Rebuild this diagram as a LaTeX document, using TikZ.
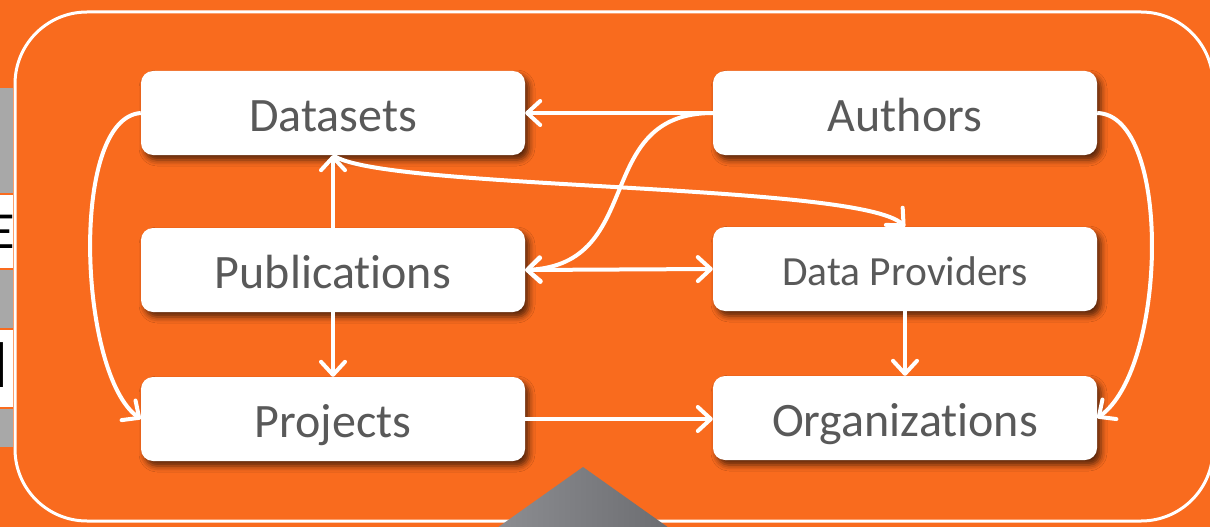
\documentclass[tikz,border=0pt]{standalone}
\usepackage{fontspec}
\setmainfont{Carlito}
\newfontfamily\boxfont[Ligatures=NoCommon]{Carlito}
\usetikzlibrary{arrows.meta,shadows.blur}
\definecolor{bgorange}{HTML}{F96B1E}
\definecolor{txtgray}{HTML}{595959}
\definecolor{stripgray}{HTML}{A8A8A8}
\definecolor{triL}{HTML}{8C8D91}
\definecolor{triR}{HTML}{6C6D71}
\tikzset{
  entity/.style={fill=white, rounded corners=12pt, minimum width=384pt, minimum height=84pt,
    inner sep=0pt, text=txtgray, text height=37pt, text depth=0pt,
    font=\boxfont\fontsize{48}{52}\selectfont,
    blur shadow={shadow xshift=4pt, shadow yshift=-5pt, shadow blur radius=6pt, shadow opacity=65}},
  smallentity/.style={entity, text height=32pt, font=\boxfont\fontsize{41.5}{45}\selectfont},
  conn/.style={draw=white, line width=4pt,
    -{Straight Barb[length=13pt,width=24pt,line cap=round,line join=round]}},
  dconn/.style={conn, {Straight Barb[length=13pt,width=24pt,line cap=round,line join=round]}-{Straight Barb[length=13pt,width=24pt,line cap=round,line join=round]}}
}
\begin{document}
\begin{tikzpicture}[x=1pt,y=-1pt]
\useasboundingbox (0,0) rectangle (1210,527);
\fill[bgorange] (0,0) rectangle (1210,527);
% left strips of the neighbouring slide
\fill[stripgray] (0,88) rectangle (13,193);
\fill[white] (0,195) rectangle (13,268);
\fill[stripgray] (0,270) rectangle (13,328);
\fill[white] (0,330) rectangle (13,407);
\fill[stripgray] (0,409) rectangle (13,447);
\begin{scope}
  \clip (0,195) rectangle (13,268);
  \node[anchor=base east, inner sep=0pt, text=black, font=\fontsize{52}{56}\selectfont] (eltr) at (15,248) {E};
\end{scope}
\begin{scope}
  \clip (0,330) rectangle (13,407);
  \node[anchor=base east, inner sep=0pt, text=black, font=\fontsize{70}{74}\selectfont] (iltr) at (9.5,387) {I};
\end{scope}
% frame
\draw[white, line width=3pt, rounded corners=72pt] (15,12) rectangle (1213,521);
% entities
\node[entity] (ds) at (333,113) {Datasets};
\node[entity] (pub) at (333,270) {Publications};
\node[entity] (prj) at (333,419) {Projects};
\node[entity] (auth) at (905,113) {Authors};
\node[smallentity] (dp) at (905,269) {Data Providers};
\node[entity] (org) at (905,418) {Organizations};
% connectors
\draw[conn] (auth.west) -- (ds.east);
\draw[conn] (auth.west) .. controls +(-122,0) and +(122,-6) .. (pub.east);
\draw[dconn] (pub.east) -- (dp.west);
\draw[conn] (ds.south) .. controls +(47,35) and +(-45,-44) .. (dp.north);
\draw[conn] (pub.north) -- (ds.south);
\draw[conn] (pub.south) -- (prj.north);
\draw[conn] (prj.east) -- (prj.east -| org.west);
\draw[conn] (dp.south) -- (org.north);
\draw[conn] (ds.west) .. controls +(-72,5) and +(-62,-44) .. (prj.west);
\draw[conn] (auth.east) .. controls +(75,2) and +(70,-50) .. (org.east);
% pointer triangle
\shade[left color=triL, right color=triR] (583,467) -- (669,528) -- (497,528) -- cycle;
\end{tikzpicture}
\end{document}
